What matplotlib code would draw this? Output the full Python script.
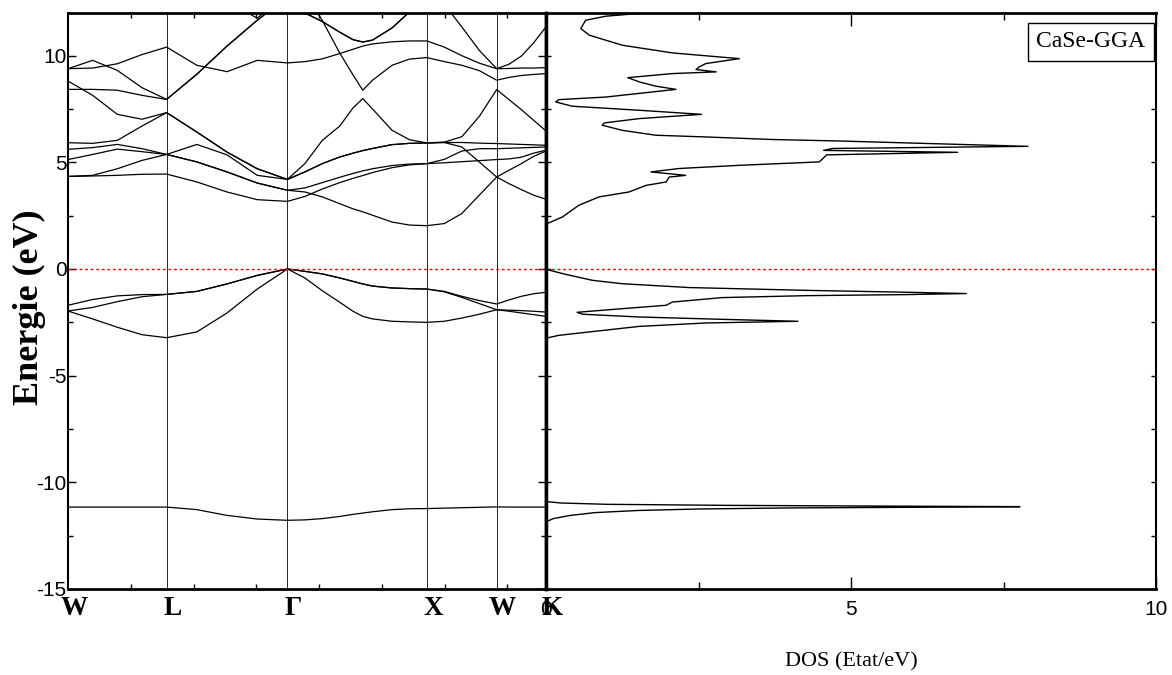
import numpy as np
import matplotlib
matplotlib.use("Agg")
import matplotlib.pyplot as plt
from matplotlib import font_manager, transforms

names = {f.name for f in font_manager.fontManager.ttflist}
SANS = 'Liberation Sans Narrow' if 'Liberation Sans Narrow' in names else 'Liberation Sans'
SERIF = 'Liberation Serif'
plt.rcParams['font.family'] = [SANS, 'DejaVu Sans']
plt.rcParams['axes.unicode_minus'] = False

# ---------------- data ----------------
kpath_labels = ['W', 'L', 'Γ', 'X', 'W', 'K']
kpath_points = [[1, .5, 0], [.5, .5, .5], [0, 0, 0], [1, 0, 0], [1, .5, 0], [.75, .75, 0]]
seg_fracs = [
    [0, .25, .5, .75, 1],                                   # W-L
    [0, .25, .5, .75, 1],                                   # L-G
    [0, .125, .25, .375, .47, .54, .61, .75, .875, 1],      # G-X
    [0, .25, .5, .75, 1],                                   # X-W
    [0, .25, .5, .75, 1],                                   # W-K
]
# energies (eV) at every sample:  W-L(5) | L-G(4) | G-X(9) | X-W(4) | W-K(4)
c1 = [4.34, 4.36, 4.39, 4.44, 4.45, 4.08, 3.61, 3.25, 3.17,
      3.40, 3.75, 4.05, 4.25, 4.38, 4.52, 4.75, 4.88, 4.94,
      4.98, 5.03, 5.08, 5.13, 5.16, 5.24, 5.43, 5.57]
c2 = [4.34, 4.39, 4.70, 5.09, 5.37, 5.02, 4.55, 4.03, 3.69,
      3.61, 3.38, 3.06, 2.82, 2.68, 2.52, 2.20, 2.06, 2.03,
      2.13, 2.60, 3.46, 4.31, 4.63, 4.94, 5.28, 5.53]
c3 = [5.13, 5.37, 5.62, 5.50, 5.37, 5.02, 4.55, 4.03, 3.69,
      3.80, 4.05, 4.30, 4.48, 4.60, 4.70, 4.85, 4.92, 4.94,
      5.14, 5.53, 5.64, 5.64, 5.66, 5.68, 5.70, 5.72]
c4 = [5.61, 5.69, 5.84, 5.64, 5.37, 5.84, 5.35, 4.39, 4.20,
      4.55, 4.94, 5.25, 5.43, 5.55, 5.65, 5.83, 5.89, 5.91,
      5.93, 5.72, 5.02, 4.31, 4.00, 3.72, 3.46, 3.27]
c5 = [5.92, 5.89, 6.03, 6.70, 7.33, 6.42, 5.48, 4.70, 4.20,
      4.55, 4.94, 5.25, 5.43, 5.55, 5.65, 5.83, 5.89, 5.91,
      5.93, 5.93, 5.90, 5.88, 5.86, 5.84, 5.82, 5.80]
c6 = [8.81, 8.14, 7.25, 7.02, 7.33, 6.42, 5.48, 4.70, 4.20,
      4.94, 6.03, 6.70, 7.55, 7.99, 7.50, 6.50, 6.06, 5.91,
      5.95, 6.20, 7.15, 8.41, 7.94, 7.47, 6.97, 6.47]
c7 = [8.42, 8.42, 8.38, 8.14, 7.95, 9.13, 10.45, 11.66, 12.75,
      12.90, 11.65, 10.12, 9.10, 8.38, 8.85, 9.55, 9.84, 9.91,
      9.72, 9.55, 9.30, 8.85, 8.98, 9.07, 9.12, 9.16]
c8 = [9.39, 9.78, 9.31, 8.50, 7.95, 9.13, 10.45, 11.66, 12.75,
      12.00, 11.60, 11.10, 10.75, 10.64, 10.73, 11.30, 12.05, 12.80,
      12.40, 11.35, 10.25, 9.39, 9.60, 9.98, 10.60, 11.35]
c9 = [9.39, 9.42, 9.62, 10.05, 10.40, 9.55, 9.25, 9.78, 9.66,
      9.72, 9.85, 10.10, 10.30, 10.45, 10.55, 10.65, 10.69, 10.69,
      10.40, 10.00, 9.65, 9.39, 9.40, 9.42, 9.42, 9.44]
c10 = [13.0, 13.0, 13.0, 13.0, 13.0, 13.0, 12.6, 11.75, 13.0,
       12.00, 11.60, 11.10, 10.75, 10.64, 10.73, 11.30, 12.05, 12.80,
       13.0, 13.0, 13.0, 13.0, 13.0, 13.0, 13.0, 13.0]
v1 = [-1.70, -1.43, -1.26, -1.20, -1.19, -1.05, -0.70, -0.30, 0.0,
      -0.11, -0.23, -0.42, -0.58, -0.70, -0.80, -0.89, -0.92, -0.94,
      -1.05, -1.28, -1.48, -1.64, -1.45, -1.28, -1.16, -1.09]
v2 = [-1.97, -1.80, -1.53, -1.30, -1.19, -1.05, -0.70, -0.30, 0.0,
      -0.11, -0.23, -0.42, -0.58, -0.70, -0.80, -0.89, -0.92, -0.94,
      -1.07, -1.33, -1.62, -1.91, -1.93, -1.95, -1.98, -2.02]
v3 = [-1.97, -2.34, -2.73, -3.08, -3.22, -2.95, -2.06, -0.94, 0.0,
      -0.42, -1.02, -1.56, -1.98, -2.22, -2.34, -2.45, -2.48, -2.50,
      -2.45, -2.30, -2.12, -1.91, -1.98, -2.06, -2.14, -2.22]
s1 = [-11.16, -11.16, -11.16, -11.16, -11.16, -11.28, -11.55, -11.72, -11.78,
      -11.76, -11.70, -11.60, -11.50, -11.44, -11.38, -11.28, -11.24, -11.23,
      -11.21, -11.19, -11.17, -11.15, -11.16, -11.16, -11.16, -11.16]
bands = [c1, c2, c3, c4, c5, c6, c7, c8, c9, c10, v1, v2, v3, s1]

dos_E = [-11.85, -11.70, -11.55, -11.42, -11.32, -11.25, -11.20, -11.17, -11.14,
         -11.12, -11.08, -11.03, -10.97, -10.90,
         -3.23, -3.11, -2.95, -2.69, -2.53, -2.45, -2.36, -2.25, -2.12, -2.03,
         -1.86, -1.70, -1.55, -1.34, -1.25, -1.20, -1.15, -1.09, -1.00, -0.87,
         -0.69, -0.53, -0.25, -0.03,
         2.13, 2.44, 2.99, 3.38, 3.61, 3.92, 4.08, 4.31, 4.39, 4.55, 4.71, 4.86,
         5.02, 5.10, 5.18, 5.35, 5.47, 5.56, 5.65, 5.75, 6.00, 6.07, 6.19, 6.27,
         6.50, 6.74, 6.85, 7.05, 7.25, 7.44, 7.63, 7.83, 7.94, 8.06, 8.42, 8.57,
         8.77, 8.97, 9.16, 9.24, 9.35, 9.47, 9.63, 9.86, 10.13, 10.49, 10.96,
         11.27, 11.66, 11.85, 11.94, 12.05]
dos_val = [0.0, 0.12, 0.4, 0.8, 1.5, 2.5, 4.0, 6.0, 7.77,
           6.0, 3.0, 1.0, 0.25, 0.0,
           0.02, 0.21, 0.71, 1.53, 2.62, 4.13, 2.90, 1.53, 0.60, 0.51,
           1.25, 1.97, 2.07, 2.89, 4.26, 5.91, 6.89, 5.91, 4.26, 2.35,
           1.25, 0.76, 0.32, 0.02,
           0.02, 0.27, 0.54, 0.87, 1.36, 1.64, 1.97, 2.02, 2.29, 1.72, 2.18, 3.17,
           4.48, 4.51, 4.54, 4.60, 6.75, 4.55, 4.70, 7.90, 4.81, 3.71, 2.62, 1.80,
           1.25, 0.92, 0.96, 1.53, 2.55, 1.53, 0.43, 0.16, 0.21, 0.98, 2.13, 1.80,
           1.53, 1.34, 2.07, 2.79, 2.46, 2.51, 2.62, 3.17, 2.07, 1.25, 0.71,
           0.57, 0.65, 0.98, 1.36, 1.70]

e_ticks = [-15, -10, -5, 0, 5, 10]
e_minor = [-12.5, -7.5, -2.5, 2.5, 7.5]
dos_ticks = [0, 5, 10]
dos_minor = [2.5, 7.5]

# ---------------- k axis ----------------
pts = np.array(kpath_points, dtype=float)
seglen = np.linalg.norm(np.diff(pts, axis=0), axis=1)
kx = np.concatenate([[0], np.cumsum(seglen)])
kk = []
for i, fr in enumerate(seg_fracs):
    f = np.array(fr if i == 0 else fr[1:])
    kk += list(kx[i] + f * seglen[i])
kk = np.array(kk)

# ---------------- figure ----------------
W, H = 1172, 675
fig = plt.figure(figsize=(W / 100, H / 100), dpi=100)
axb = fig.add_axes([68 / W, 86 / H, 478 / W, 576 / H])
axd = fig.add_axes([546 / W, 86 / H, 610 / W, 576 / H])

for b in bands:
    axb.plot(kk, b, color='black', lw=0.9, solid_joinstyle='round')
for x in kx[1:-1]:
    axb.axvline(x, color='black', lw=0.6)
for ax in (axb, axd):
    ax.axhline(0, color='red', lw=1.0, ls=(0, (2, 2)))

axb.set_xlim(0, kx[-1])
axb.set_ylim(-15, 12)
axb.set_yticks(e_ticks)
axb.set_yticks(e_minor, minor=True)
axb.tick_params(axis='y', which='both', direction='in', left=True, right=True,
                labelsize=15, pad=1.0, width=1)
axb.tick_params(axis='y', which='major', length=5.5)
axb.tick_params(axis='y', which='minor', length=3.5)
axb.set_xticks(kx)
axb.set_xticklabels([])
step = 0.45
axb.set_xticks(np.arange(step, kx[-1], step), minor=True)
axb.tick_params(axis='x', which='major', length=0)
axb.tick_params(axis='x', which='minor', direction='in', top=True, bottom=True,
                length=3.5, width=1)

tr = transforms.offset_copy(axb.get_xaxis_transform(), fig=fig, x=4.3, y=-5.0, units='points')
for x, lab in zip(kx, kpath_labels):
    axb.text(x, 0, lab, transform=tr, ha='center', va='top', fontsize=19.5,
             fontweight='bold', family=[SERIF, 'DejaVu Serif'])

axb.set_ylabel('Energie (eV)', family=[SERIF], fontweight='bold', fontsize=26)
axb.yaxis.set_label_coords(-0.046, 0.49)

axd.plot(dos_val, dos_E, color='black', lw=1.0)
axd.set_xlim(0, 10)
axd.set_ylim(-15, 12)
axd.set_xticks(dos_ticks)
axd.set_xticks(dos_minor, minor=True)
axd.set_yticks(e_ticks)
axd.set_yticks(e_minor, minor=True)
axd.tick_params(axis='y', which='both', direction='in', left=True, right=True,
                labelleft=False, length=3.5, width=1)
axd.tick_params(axis='x', which='major', direction='in', top=True, length=9,
                width=1, labelsize=15, pad=8.0)
axd.tick_params(axis='x', which='minor', direction='in', top=True, length=5, width=1)
axd.set_xlabel('DOS (Etat/eV)', family=[SERIF], fontsize=16)
axd.xaxis.set_label_coords(0.5, -0.109)

axd.text(0.893, 0.95, 'CaSe-GGA', transform=axd.transAxes, ha='center', va='center',
         family=[SERIF], fontsize=17,
         bbox=dict(boxstyle='square,pad=0.35', fc='white', ec='black', lw=1))

axb.spines['left'].set_linewidth(1.5)
axb.spines['top'].set_linewidth(2)
axb.spines['bottom'].set_linewidth(2)
axb.spines['right'].set_linewidth(2.5)
axd.spines['left'].set_linewidth(2.5)
axd.spines['top'].set_linewidth(2)
axd.spines['bottom'].set_linewidth(2)
axd.spines['right'].set_linewidth(1.5)

fig.savefig('out.png', dpi=100)
